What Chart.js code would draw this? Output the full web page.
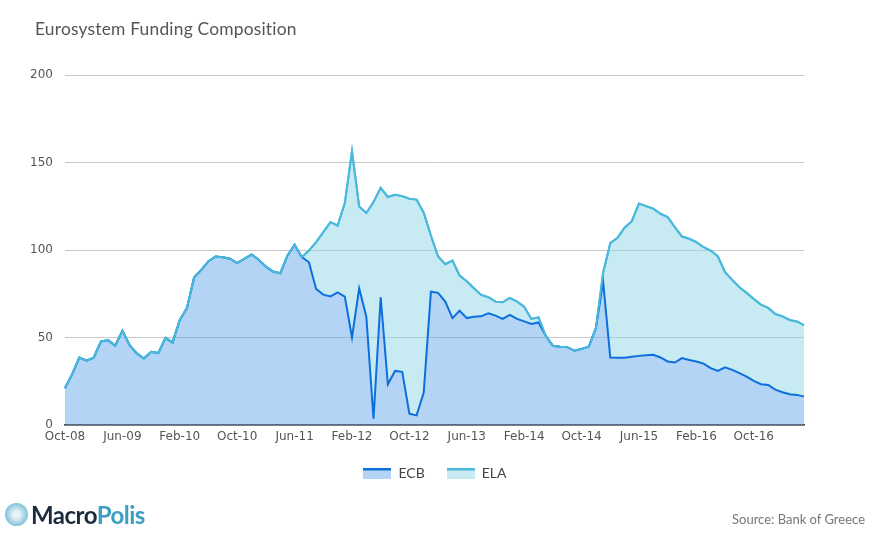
<!DOCTYPE html>
<html>
<head>
<meta charset="utf-8">
<script src="https://cdn.jsdelivr.net/npm/chart.js@4.4.1/dist/chart.umd.min.js"></script>
<style>
    body { margin: 0; background: #fff; width: 870px; height: 550px; overflow: hidden; position: relative; font-family: Lato, "Open Sans", sans-serif; }
    #wrap { position: absolute; left: 0; top: 0; width: 870px; height: 550px; }
    #title { position: absolute; left: 35px; top: 18px; font-size: 17.4px; color: #555; letter-spacing: 0.2px; }
    #logo { position: absolute; left: 5px; top: 499px; height: 30px; display: flex; align-items: center; }
    #logo .icon { width: 23px; height: 23px; border-radius: 50%; background: radial-gradient(circle, #e6f3f8 20%, #9fd0e2 55%, #4ea9c9 100%); margin-right: 3px; }
    #logo .txt { font-family: Lato, sans-serif; font-size: 24px; font-weight: 700; letter-spacing: -0.5px; }
    #logo .m { color: #1b2c3e; }
    #logo .p { color: #3a9fc0; }
    #source { position: absolute; right: 5px; top: 511px; font-size: 13px; color: #777; }
</style>
</head>
<body>
<div id="wrap"><canvas id="fundingChart" width="870" height="550"></canvas></div>
<div id="title">Eurosystem Funding Composition</div>
<div id="logo"><div class="icon"></div><div class="txt"><span class="m">Macro</span><span class="p">Polis</span></div></div>
<div id="source">Source: Bank of Greece</div>
<script>
// --- Data (EUR bn, monthly) ---
const labels = [
    'Oct-08', 'Nov-08', 'Dec-08',
    'Jan-09', 'Feb-09', 'Mar-09', 'Apr-09', 'May-09', 'Jun-09', 'Jul-09', 'Aug-09', 'Sep-09', 'Oct-09', 'Nov-09', 'Dec-09',
    'Jan-10', 'Feb-10', 'Mar-10', 'Apr-10', 'May-10', 'Jun-10', 'Jul-10', 'Aug-10', 'Sep-10', 'Oct-10', 'Nov-10', 'Dec-10',
    'Jan-11', 'Feb-11', 'Mar-11', 'Apr-11', 'May-11', 'Jun-11', 'Jul-11', 'Aug-11', 'Sep-11', 'Oct-11', 'Nov-11', 'Dec-11',
    'Jan-12', 'Feb-12', 'Mar-12', 'Apr-12', 'May-12', 'Jun-12', 'Jul-12', 'Aug-12', 'Sep-12', 'Oct-12', 'Nov-12', 'Dec-12',
    'Jan-13', 'Feb-13', 'Mar-13', 'Apr-13', 'May-13', 'Jun-13', 'Jul-13', 'Aug-13', 'Sep-13', 'Oct-13', 'Nov-13', 'Dec-13',
    'Jan-14', 'Feb-14', 'Mar-14', 'Apr-14', 'May-14', 'Jun-14', 'Jul-14', 'Aug-14', 'Sep-14', 'Oct-14', 'Nov-14', 'Dec-14',
    'Jan-15', 'Feb-15', 'Mar-15', 'Apr-15', 'May-15', 'Jun-15', 'Jul-15', 'Aug-15', 'Sep-15', 'Oct-15', 'Nov-15', 'Dec-15',
    'Jan-16', 'Feb-16', 'Mar-16', 'Apr-16', 'May-16', 'Jun-16', 'Jul-16', 'Aug-16', 'Sep-16', 'Oct-16', 'Nov-16', 'Dec-16',
    'Jan-17', 'Feb-17', 'Mar-17', 'Apr-17', 'May-17'
];

const ecbValues = [
    21, 29, 38.5,
    36.7, 38.5, 47.7, 48.5, 45.3, 53.9, 45.7, 40.9, 38, 41.8, 41.1, 49.7,
    47.2, 60, 66.9, 84.4, 88.6, 93.6, 96.3, 95.9, 95, 92.5, 95, 97.4,
    94.4, 90.5, 87.7, 86.7, 96.8, 103, 95.9, 93, 77.7, 74.5, 73.5, 75.8,
    73.4, 50, 78.1, 61.9, 3.6, 73, 23.3, 30.9, 30.4, 6.5, 5.5, 18.5,
    76.2, 75.5, 70.5, 61.1, 65.3, 61.1, 61.9, 62.1, 63.8, 62.5, 60.6, 62.9,
    60.6, 59.2, 57.7, 58.6, 51, 45.3, 44.7, 44.5, 42.4, 43.5, 44.7, 55.5,
    82, 38.6, 38.4, 38.4, 39, 39.5, 39.9, 40.1, 38.6, 36.3, 35.7, 38.2,
    37.1, 36.3, 35.1, 32.5, 30.9, 32.9, 31.5, 29.6, 27.7, 25.2, 23.3, 22.9,
    20.2, 18.7, 17.6, 17.2, 16.2
];

const elaValues = [
    0, 0, 0,
    0, 0, 0, 0, 0, 0, 0, 0, 0, 0, 0, 0,
    0, 0, 0, 0, 0, 0, 0, 0, 0, 0, 0, 0,
    0, 0, 0, 0, 0, 0, 0, 6.7, 26.8, 35.7, 42.4, 38.2,
    53.4, 106.4, 46.8, 59.2, 123.8, 62.5, 107, 100.7, 100.4, 122.8, 123.3, 102.8,
    32.1, 20.8, 21.4, 32.9, 20.1, 21, 16.2, 12.2, 9.2, 8, 9.5, 9.7,
    9.9, 8.4, 2.9, 2.9, 0, 0, 0, 0, 0, 0, 0, 0,
    5, 65.3, 68.6, 74.3, 77.5, 87, 85.2, 83.5, 82.1, 82.5, 77.4, 69.5,
    69.3, 68.2, 66.5, 67.2, 65.4, 54.4, 51.4, 49.1, 47.8, 46.8, 45.5, 44,
    43.2, 43.4, 42.4, 42, 40.9
];

const yTicks = [0, 50, 100, 150, 200];

// --- Colours ---
const ecbLine = '#0b6fdc', ecbFill = 'rgba(103, 169, 235, 0.5)', ecbSolid = '#b3d4f5';
const elaLine = '#4bb9dc', elaFill = 'rgba(145, 213, 231, 0.5)', elaSolid = '#c8eaf3';

// legend swatch: coloured line on top of the area colour
function swatch(line, fill) {
    const c = document.createElement('canvas');
    c.width = 28; c.height = 11;
    const g = c.getContext('2d');
    g.fillStyle = fill; g.fillRect(0, 0, 28, 11);
    g.fillStyle = line; g.fillRect(0, 0, 28, 3);
    return c;
}

// the ELA (total) line sits on top of the ECB line where they coincide
const elaOnTop = {
    id: 'elaOnTop',
    afterDatasetsDraw: function (chart) {
        const meta = chart.getDatasetMeta(1);
        const area = chart.chartArea;
        const c = chart.ctx;
        c.save();
        c.beginPath();
        c.rect(area.left, area.top - 2, area.right - area.left, area.bottom - area.top + 2);
        c.clip();
        meta.dataset.draw(c, area);
        c.restore();
    }
};

const ctx = document.getElementById('fundingChart').getContext('2d');

new Chart(ctx, {
    type: 'line',
    data: {
        labels: labels,
        datasets: [{
            label: 'ECB',
            data: ecbValues,
            borderColor: ecbLine,
            backgroundColor: ecbFill,
            fill: 'origin'
        }, {
            label: 'ELA',
            data: elaValues,
            borderColor: elaLine,
            backgroundColor: elaFill,
            fill: '-1'
        }]
    },
    plugins: [elaOnTop],
    options: {
        responsive: false,
        animation: false,
        events: [],
        layout: { padding: { top: 75, bottom: 60, left: 0, right: 0 } },
        elements: {
            point: { radius: 0 },
            line: { borderWidth: 2, tension: 0 }
        },
        plugins: {
            tooltip: { enabled: false },
            legend: {
                position: 'bottom',
                labels: {
                    usePointStyle: true,
                    pointStyleWidth: 28,
                    boxHeight: 11,
                    padding: 22,
                    color: '#444',
                    font: { family: 'Lato, "Open Sans", sans-serif', size: 14 },
                    generateLabels: function (chart) {
                        return [
                            { text: 'ECB', pointStyle: swatch(ecbLine, ecbSolid), fontColor: '#444', datasetIndex: 0, lineWidth: 0, strokeStyle: 'transparent' },
                            { text: 'ELA', pointStyle: swatch(elaLine, elaSolid), fontColor: '#444', datasetIndex: 1, lineWidth: 0, strokeStyle: 'transparent' }
                        ];
                    }
                }
            }
        },
        scales: {
            x: {
                grid: { display: false, drawTicks: false },
                border: { color: '#333', width: 1.5 },
                ticks: {
                    autoSkip: false,
                    maxRotation: 0,
                    padding: 5,
                    color: '#555',
                    font: { family: '"DejaVu Sans", sans-serif', size: 12 },
                    callback: function (val, i) { return i % 8 === 0 ? labels[i] : null; }
                },
                afterFit: function (s) { s.height = 19; }
            },
            y: {
                stacked: true,
                min: 0,
                max: 200,
                afterBuildTicks: function (s) { s.ticks = yTicks.map(v => ({ value: v })); },
                grid: { color: '#c8c8c8', drawTicks: false },
                border: { display: false },
                ticks: {
                    padding: 12,
                    color: '#555',
                    font: { family: '"DejaVu Sans", sans-serif', size: 12 }
                },
                afterFit: function (s) { s.width = 65; }
            },
            pad: {
                position: 'right',
                display: true,
                grid: { display: false, drawTicks: false },
                border: { display: false },
                ticks: { display: false },
                afterFit: function (s) { s.width = 66; }
            }
        }
    }
});
</script>
</body>
</html>
